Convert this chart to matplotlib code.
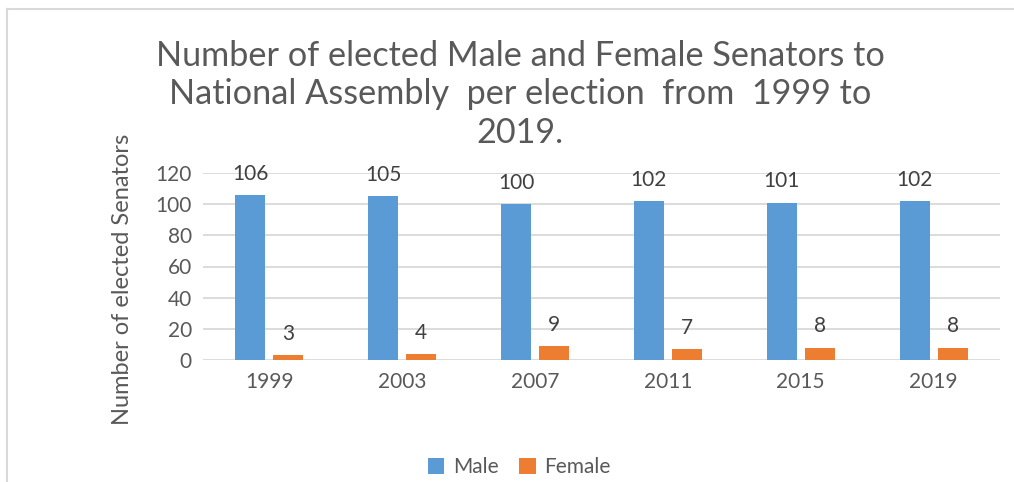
import matplotlib.pyplot as plt
import numpy as np
from matplotlib.lines import Line2D

plt.rcParams['font.family'] = ['Lato', 'DejaVu Sans']

years = ['1999', '2003', '2007', '2011', '2015', '2019']
male = [106, 105, 100, 102, 101, 102]
female = [3, 4, 9, 7, 8, 8]

blue = '#5B9BD5'
orange = '#ED7D31'
txt = '#595959'
grid = '#D9D9D9'

fig = plt.figure(figsize=(10.14, 4.82), dpi=100)
ax = fig.add_axes([203 / 1014, 1 - 360 / 482, 797 / 1014, 187 / 482])

x = np.arange(len(years))
w = 0.226
off = 0.143
b1 = ax.bar(x - off, male, w, color=blue, label='Male', zorder=3)
b2 = ax.bar(x + off, female, w, color=orange, label='Female', zorder=3)

for bars in (b1, b2):
    for rect in bars:
        ax.annotate(str(int(rect.get_height())),
                    (rect.get_x() + rect.get_width() / 2, rect.get_height()),
                    xytext=(0, 8), textcoords='offset points',
                    ha='center', va='bottom', fontsize=15, color='#404040')

ax.set_xlim(-0.5, len(years) - 0.5)
ax.set_ylim(0, 120)
ax.set_yticks(range(0, 121, 20))
ax.set_xticks(x)
ax.set_xticklabels(years)
ax.tick_params(axis='both', length=0, labelsize=15, labelcolor=txt)
ax.tick_params(axis='y', pad=8)
ax.tick_params(axis='x', pad=9)
ax.grid(axis='y', color=grid, linewidth=1.3, zorder=0)
for s in ax.spines.values():
    s.set_visible(False)

ax.set_ylabel('Number of elected Senators', fontsize=17, color=txt)
ax.yaxis.set_label_coords(-0.088, 0.43)

fig.text(0.513, 0.918,
         'Number of elected Male and Female Senators to\n'
         'National Assembly  per election  from  1999 to\n'
         '2019.',
         ha='center', va='top', fontsize=24.7, color=txt, linespacing=1.25)

fig.legend(handles=[b1, b2], labels=['Male', 'Female'], loc='center',
           bbox_to_anchor=(0.512, 1 - 467 / 482), ncol=2, frameon=False,
           fontsize=15, labelcolor=txt, handlelength=0.8, handleheight=0.8,
           handletextpad=0.4, columnspacing=1.0)

# chart frame
fig.add_artist(Line2D([7 / 1014, 7 / 1014], [0, 1 - 9 / 482], color=grid, linewidth=1.5))
fig.add_artist(Line2D([7 / 1014, 1], [1 - 9 / 482, 1 - 9 / 482], color=grid, linewidth=1.5))

fig.savefig('out.png', dpi=100)
